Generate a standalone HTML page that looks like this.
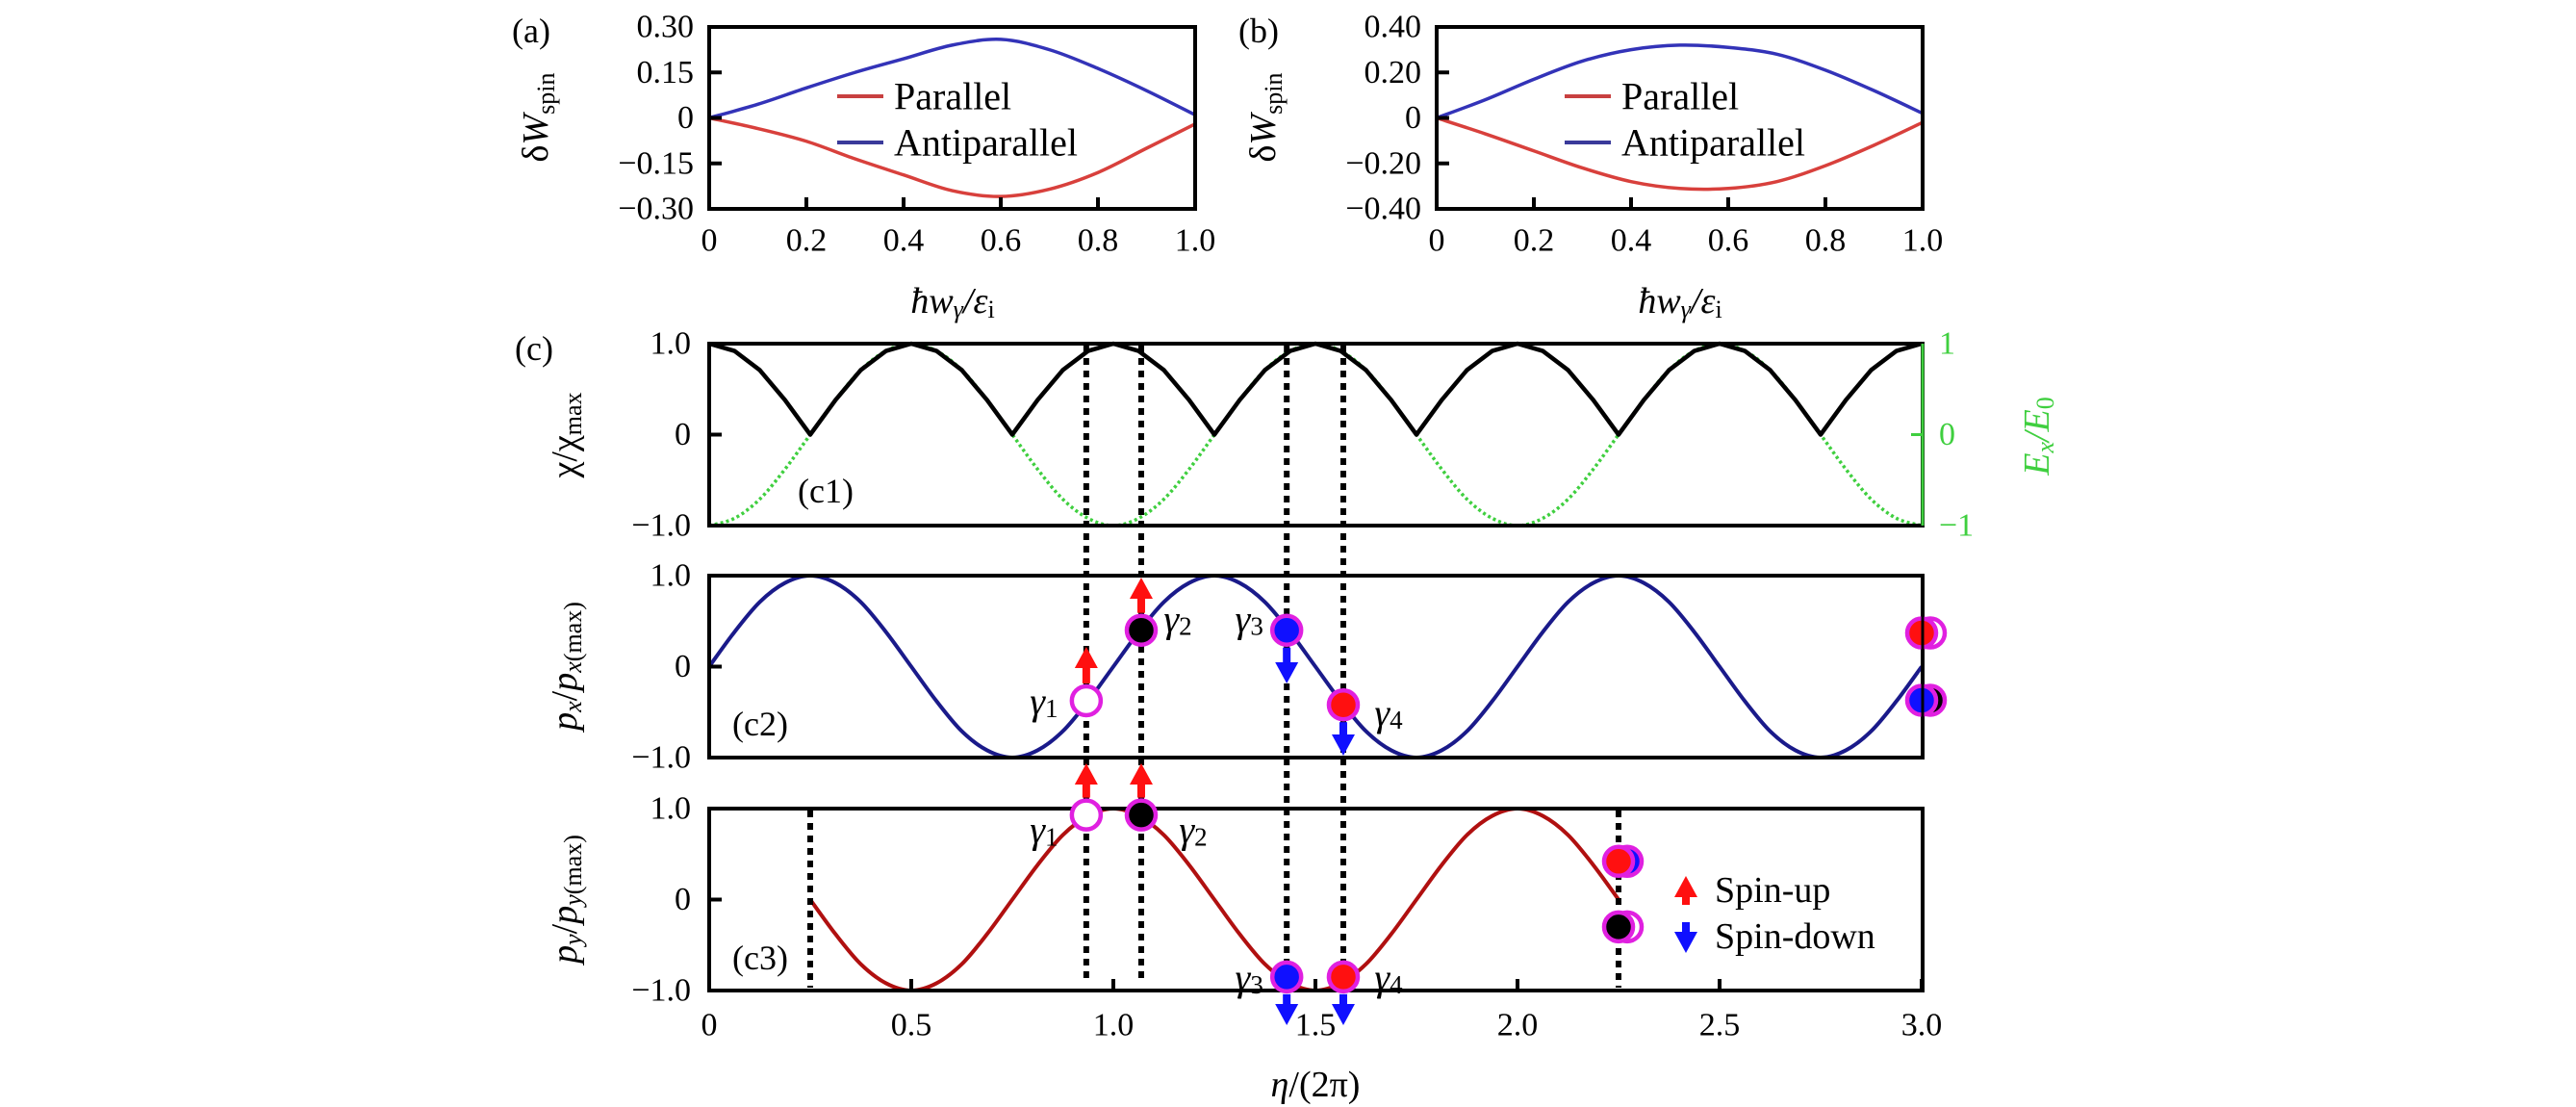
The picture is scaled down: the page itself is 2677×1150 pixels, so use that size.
<!DOCTYPE html>
<html><head><meta charset="utf-8">
<style>
html,body{margin:0;padding:0;background:#fff;}
svg{display:block;font-family:"Liberation Serif",serif;}
text{font-family:"Liberation Serif",serif;}
</style></head>
<body>
<svg id="fig" width="2677" height="1150" viewBox="0 0 2677 1150" xmlns="http://www.w3.org/2000/svg" font-family="Liberation Serif, serif">
<g id="layer"></g>
</svg>
<script>
// ---------- data ----------
const wX = [0,0.1,0.2,0.3,0.4,0.5,0.6,0.7,0.8,0.9,1.0];
const aParallel = [0,-0.035,-0.077,-0.135,-0.188,-0.24,-0.259,-0.235,-0.18,-0.1,-0.02];
const aAnti = [0,0.045,0.099,0.15,0.195,0.24,0.259,0.225,0.163,0.09,0.01];
const bParallel = [0,-0.07,-0.145,-0.22,-0.28,-0.31,-0.31,-0.28,-0.21,-0.12,-0.02];
const bAnti = [0,0.08,0.17,0.25,0.30,0.32,0.31,0.28,0.21,0.12,0.02];
const aYTicks = [0.30,0.15,0,-0.15,-0.30];
const aYLabels = ["0.30","0.15","0","\u22120.15","\u22120.30"];
const bYTicks = [0.40,0.20,0,-0.20,-0.40];
const bYLabels = ["0.40","0.20","0","\u22120.20","\u22120.40"];
const wXTicks = [0,0.2,0.4,0.6,0.8,1.0];
const wXLabels = ["0","0.2","0.4","0.6","0.8","1.0"];
const etaTicks = [0,0.5,1.0,1.5,2.0,2.5,3.0];
const etaLabels = ["0","0.5","1.0","1.5","2.0","2.5","3.0"];
// eta sampled every 1/16
const chiVals = [1,.92,.71,.38,0,.38,.71,.92,1,.92,.71,.38,0,.38,.71,.92,1,.92,.71,.38,0,.38,.71,.92,1,.92,.71,.38,0,.38,.71,.92,1,.92,.71,.38,0,.38,.71,.92,1,.92,.71,.38,0,.38,.71,.92,1];
const exVals = [-1,-.92,-.71,-.38,0,.38,.71,.92,1,.92,.71,.38,0,-.38,-.71,-.92,-1,-.92,-.71,-.38,0,.38,.71,.92,1,.92,.71,.38,0,-.38,-.71,-.92,-1,-.92,-.71,-.38,0,.38,.71,.92,1,.92,.71,.38,0,-.38,-.71,-.92,-1];
const pxVals = [0,.38,.71,.92,1,.92,.71,.38,0,-.38,-.71,-.92,-1,-.92,-.71,-.38,0,.38,.71,.92,1,.92,.71,.38,0,-.38,-.71,-.92,-1,-.92,-.71,-.38,0,.38,.71,.92,1,.92,.71,.38,0,-.38,-.71,-.92,-1,-.92,-.71,-.38,0];
const pyStart = 0.25;
const pyVals = [0,-.38,-.71,-.92,-1,-.92,-.71,-.38,0,.38,.71,.92,1,.92,.71,.38,0,-.38,-.71,-.92,-1,-.92,-.71,-.38,0,.38,.71,.92,1,.92,.71,.38,0];
const gammaEta = [0.933,1.069,1.429,1.569];
const gammaNames = ["1","2","3","4"];
const gammaPx = [-0.375,0.40,0.40,-0.42];
const gammaPy = [0.93,0.93,-0.85,-0.85];
const gammaFill = ["#ffffff","#000000","#1010ff","#ff1010"];
const gammaSpin = ["up","up","down","down"];
const endPxEta = 3.0, endPxVals = [0.37,-0.37];
const endPyEta = 2.25, endPyVals = [0.42,-0.30];

// ---------- helpers ----------
const NS="http://www.w3.org/2000/svg";
const L=document.getElementById('layer');
function mk(tag,attrs,parent){const e=document.createElementNS(NS,tag);for(const k in attrs)e.setAttribute(k,attrs[k]);if(tag==='text')e.setAttribute('font-family','Liberation Serif, serif');(parent||L).appendChild(e);return e;}
function txt(x,y,s,size,anchor,fill,parent){const t=mk('text',{x:x,y:y,'font-size':size,'text-anchor':anchor||'middle','dominant-baseline':'central',fill:fill||'#000'},parent);t.textContent=s;return t;}
function smooth(pts){let d='M'+pts[0][0]+','+pts[0][1];for(let i=0;i<pts.length-1;i++){const p0=pts[Math.max(0,i-1)],p1=pts[i],p2=pts[i+1],p3=pts[Math.min(pts.length-1,i+2)];d+=' C'+(p1[0]+(p2[0]-p0[0])/6)+','+(p1[1]+(p2[1]-p0[1])/6)+' '+(p2[0]-(p3[0]-p1[0])/6)+','+(p2[1]-(p3[1]-p1[1])/6)+' '+p2[0]+','+p2[1];}return d;}
function linear(pts){return 'M'+pts.map(p=>p[0]+','+p[1]).join(' L');}

// ---------- panels a & b ----------
function wpanel(x0,yMax,par,anti,yT,yL,tag){
  const X=v=>x0+505*v, Y=v=>122.5-v/yMax*94.5;
  const g=mk('g',{});
  
  
  let e=mk('path',{d:smooth(wX.map((v,i)=>[X(v),Y(par[i])])),stroke:'#d8403c',fill:'none','stroke-width':3.5},g);
  
  
  e=mk('path',{d:smooth(wX.map((v,i)=>[X(v),Y(anti[i])])),stroke:'#3333b8',fill:'none','stroke-width':3.5},g);
  
  
  e=mk('rect',{x:X(0),y:28,width:505,height:189,fill:'none',stroke:'#000','stroke-width':4},g);
  
  
  yT.forEach((v,i)=>{mk('line',{x1:X(0),x2:X(0)+13,y1:Y(v),y2:Y(v),stroke:'#000','stroke-width':4},g);
    const t=txt(X(0)-16,Y(v),yL[i],34,'end','#000',g);
    
    });
  wXTicks.forEach((v,i)=>{mk('line',{x1:X(v),x2:X(v),y1:217,y2:205,stroke:'#000','stroke-width':4},g);
    const t=txt(X(v),250,wXLabels[i],34,'middle','#000',g);
    
    });
  // legend
  mk('line',{x1:X(0)+133,x2:X(0)+181,y1:100,y2:100,stroke:'#c84040','stroke-width':4},g);
  mk('line',{x1:X(0)+133,x2:X(0)+181,y1:148,y2:148,stroke:'#3a3a9a','stroke-width':4},g);
  e=txt(X(0)+192,100,'Parallel',40,'start','#000',g);
  
  
  e=txt(X(0)+192,148,'Antiparallel',40,'start','#000',g);
  
  
  // axis labels
  e=txt(X(0)-185,32,'('+tag+')',36,'middle','#000',g);
  
  
  e=mk('text',{x:0,y:0,'font-size':38,'text-anchor':'middle','dominant-baseline':'central',transform:'translate('+(X(0)-180)+',122) rotate(-90)'},g);
  e.innerHTML='δ<tspan font-style="italic">W</tspan><tspan font-size="26" dy="10">spin</tspan>';
  
  
  e=mk('text',{x:X(0)+253,y:313,'font-size':38,'text-anchor':'middle','dominant-baseline':'central','font-style':'italic'},g);
  e.innerHTML='ħw<tspan font-size="26" dy="8">γ</tspan><tspan dy="-8">/ε</tspan><tspan font-size="26" dy="8" font-style="normal">i</tspan>';
  
  
}
wpanel(737,0.3,aParallel,aAnti,aYTicks,aYLabels,'a');
wpanel(1493,0.4,bParallel,bAnti,bYTicks,bYLabels,'b');

// ---------- panel c ----------
const CX=v=>737+420*v;
const rows=[{top:357,mid:451.5},{top:598,mid:692.5},{top:840,mid:934.5}];
const YF=r=>v=>rows[r].mid-94.5*v;
const etaAt=i=>i/16;
let e=mk('path',{d:smooth(exVals.map((v,i)=>[CX(etaAt(i)),YF(0)(v)])),stroke:'#3fcf3f',fill:'none','stroke-width':3.5,'stroke-dasharray':'3 3'});


e=mk('path',{d:linear(chiVals.map((v,i)=>[CX(etaAt(i)),YF(0)(v)])),stroke:'#000',fill:'none','stroke-width':4.5,'stroke-linejoin':'round'});


e=mk('path',{d:smooth(pxVals.map((v,i)=>[CX(etaAt(i)),YF(1)(v)])),stroke:'#1a1a8a',fill:'none','stroke-width':4});


e=mk('path',{d:smooth(pyVals.map((v,i)=>[CX(pyStart+etaAt(i)),YF(2)(v)])),stroke:'#b01010',fill:'none','stroke-width':4});



rows.forEach((r,k)=>{
  const f=mk('rect',{x:737,y:r.top,width:1261,height:189,fill:'none',stroke:'#000','stroke-width':4});
  
  
  mk('line',{x1:737,x2:750,y1:r.mid,y2:r.mid,stroke:'#000','stroke-width':4});
  [[1,'1.0'],[0,'0'],[-1,'\u22121.0']].forEach(p=>{const t=txt(718,YF(k)(p[0]),p[1],34,'end');
    
    });
  const lab=txt(k==0?858:790,[510,752,995][k],'(c'+(k+1)+')',36,'middle');
  
  
});
mk('line',{x1:1998,x2:1998,y1:357,y2:546,stroke:'#3fcf3f','stroke-width':3});
mk('line',{x1:1986,x2:1998,y1:451.5,y2:451.5,stroke:'#3fcf3f','stroke-width':3});
[[1,'1'],[0,'0'],[-1,'\u22121']].forEach(p=>{const t=txt(2015,YF(0)(p[0]),p[1],34,'start','#3fcf3f');
  
  });
e=mk('text',{x:0,y:0,'font-size':38,'text-anchor':'middle','dominant-baseline':'central',fill:'#3fcf3f','font-style':'italic',transform:'translate(2117,453) rotate(-90)'});
e.innerHTML='E<tspan font-size="26" dy="8">x</tspan><tspan dy="-8">/E</tspan><tspan font-size="26" dy="8" font-style="normal">0</tspan>';


etaTicks.forEach((v,i)=>{
  mk('line',{x1:CX(v),x2:CX(v),y1:1029,y2:1017,stroke:'#000','stroke-width':4});
  const t=txt(CX(v),1065,etaLabels[i],34,'middle');
  
  
});
e=txt(1367,1127,'',38,'middle');
e.innerHTML='<tspan font-style="italic">η</tspan>/(2π)';


e=txt(555,362,'(c)',36,'middle');


[['χ/χ<tspan font-size="26" dy="8">max</tspan>',452],
 ['<tspan font-style="italic">p</tspan><tspan font-size="26" dy="8" font-style="italic">x</tspan><tspan dy="-8">/</tspan><tspan font-style="italic">p</tspan><tspan font-size="26" dy="8"><tspan font-style="italic">x</tspan>(max)</tspan>',692],
 ['<tspan font-style="italic">p</tspan><tspan font-size="26" dy="8" font-style="italic">y</tspan><tspan dy="-8">/</tspan><tspan font-style="italic">p</tspan><tspan font-size="26" dy="8"><tspan font-style="italic">y</tspan>(max)</tspan>',934]
].forEach((p,k)=>{const t=mk('text',{x:0,y:0,'font-size':38,'text-anchor':'middle','dominant-baseline':'central',transform:'translate(587,'+p[1]+') rotate(-90)'});
  t.innerHTML=p[0];
  
  });

gammaEta.forEach((v,i)=>{const l=mk('line',{x1:CX(v),x2:CX(v),y1:359,y2:1022,stroke:'#000','stroke-width':6,'stroke-dasharray':'7 6'});
  
  });
[pyStart,endPyEta].forEach(v=>{const l=mk('line',{x1:CX(v),x2:CX(v),y1:842,y2:1026,stroke:'#000','stroke-width':6,'stroke-dasharray':'7 6'});
  
  });

function arrow(x,yFrom,yTip,color){
  const dir=yTip<yFrom?-1:1;
  const g=mk('g',{});
  mk('rect',{x:x-4,y:Math.min(yFrom,yTip+(dir<0?20:-20)),width:8,height:Math.abs(yTip-yFrom)-20,fill:color},g);
  mk('polygon',{points:(x-12)+','+(yTip-dir*22)+' '+(x+12)+','+(yTip-dir*22)+' '+x+','+yTip,fill:color},g);
  return g;
}
function marker(x,y,fill){
  return mk('circle',{cx:x,cy:y,r:15,fill:fill,stroke:'#e020e0','stroke-width':4.5});
}
gammaEta.forEach((v,i)=>{
  const x=CX(v), y2=YF(1)(gammaPx[i]), y3=YF(2)(gammaPy[i]);
  let a;
  if(gammaSpin[i]=='up'){
    a=arrow(x,y2-18,i==0?672:600,'#ff1010');
    
    
    a=arrow(x,y3-18,793,'#ff1010');
    
    
  } else {
    a=arrow(x,y2+18,i==2?710:785,'#1010ff');
    
    
    a=arrow(x,y3+18,1065,'#1010ff');
    
    
  }
  let m=marker(x,y2,gammaFill[i]);
  
  
  m=marker(x,y3,gammaFill[i]);
  
  
  const off2=[-44,38,-39,47][i], off3=[-44,54,-39,47][i];
  const dy2=[0,-12,-12,8][i];
  [[x+off2,y2+dy2],[x+off3,y3+(i<2?15:0)]].forEach(p=>{
    const t=mk('text',{x:p[0],y:p[1],'font-size':40,'text-anchor':'middle','dominant-baseline':'central'});
    t.innerHTML='<tspan font-style="italic">γ</tspan><tspan font-size="27" dy="8">'+gammaNames[i]+'</tspan>';
    
    
  });
});
[[CX(endPxEta),YF(1)(endPxVals[0]),'#ff1010','#ffffff'],[CX(endPxEta),YF(1)(endPxVals[1]),'#1010ff','#000000'],
 [CX(endPyEta),YF(2)(endPyVals[0]),'#ff1010','#1010ff'],[CX(endPyEta),YF(2)(endPyVals[1]),'#000000','#ffffff']].forEach(p=>{
  let m=marker(p[0]+9,p[1],p[3]);
  
  
  m=marker(p[0],p[1],p[2]);
  
  
});
mk('line',{x1:1998,x2:1998,y1:598,y2:787,stroke:'#000','stroke-width':3});
let la=arrow(1752,940,910,'#ff1010');


la=arrow(1752,958,990,'#1010ff');


e=txt(1782,925,'Spin-up',38,'start');


e=txt(1782,973,'Spin-down',38,'start');


</script>
</body></html>
